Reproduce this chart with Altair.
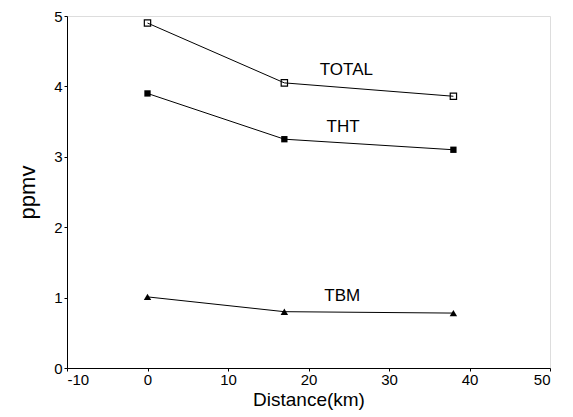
import altair as alt
import pandas as pd

distance = [0, 17, 38]
total = [4.90, 4.05, 3.86]
tht = [3.90, 3.25, 3.10]
tbm = [1.01, 0.80, 0.78]

label_text = ["TOTAL", "THT", "TBM"]
label_x = [24.7, 24.3, 24.2]
label_y = [4.23, 3.42, 1.02]

x_ticks = [-10, 0, 10, 20, 30, 40, 50]
y_ticks = [0, 1, 2, 3, 4, 5]

rows = []
for name, vals in [("TOTAL", total), ("THT", tht), ("TBM", tbm)]:
    for d, v in zip(distance, vals):
        rows.append({"series": name, "distance": d, "ppmv": v})
df = pd.DataFrame(rows)
labels = pd.DataFrame({"text": label_text, "x": label_x, "y": label_y})

FONT = "Liberation Sans"
xs = alt.Scale(domain=[-10, 50], nice=False, zero=False)
ys = alt.Scale(domain=[0, 5], nice=False)

xenc = alt.X("distance:Q", scale=xs, title="Distance(km)",
             axis=alt.Axis(values=x_ticks, grid=False, tickSize=3, labelFontSize=15,
                           labelExpr="'' + datum.value",
                           titleFontSize=19, titleFontWeight="normal", labelColor="black",
                           titleColor="black", domainColor="black", tickColor="black",
                           labelFont=FONT, titleFont=FONT, titlePadding=3, labelPadding=1))
yenc = alt.Y("ppmv:Q", scale=ys, title="ppmv",
             axis=alt.Axis(values=y_ticks, grid=False, tickSize=3, labelFontSize=15,
                           labelExpr="'' + datum.value",
                           titleFontSize=22, titleFontWeight="normal", labelColor="black",
                           titleColor="black", domainColor="black", tickColor="black",
                           labelFont=FONT, titleFont=FONT, titlePadding=14, labelPadding=2))

base = alt.Chart(df)
lines = base.mark_line(color="black", strokeWidth=1).encode(x=xenc, y=yenc, detail="series:N")

pts_total = base.transform_filter(alt.datum.series == "TOTAL").mark_point(
    shape="square", size=40, filled=False, color="black", strokeWidth=1.2, opacity=1
).encode(x="distance:Q", y="ppmv:Q")
pts_tht = base.transform_filter(alt.datum.series == "THT").mark_point(
    shape="square", size=40, filled=True, color="black", opacity=1
).encode(x="distance:Q", y="ppmv:Q")
pts_tbm = base.transform_filter(alt.datum.series == "TBM").mark_point(
    shape="triangle-up", size=55, filled=True, color="black", opacity=1
).encode(x="distance:Q", y="ppmv:Q")

text = alt.Chart(labels).mark_text(font=FONT, fontSize=17, color="black").encode(
    x=alt.X("x:Q", scale=xs), y=alt.Y("y:Q", scale=ys), text="text:N"
)

chart = alt.layer(lines, pts_total, pts_tht, pts_tbm, text).properties(
    width=483, height=352,
    autosize=alt.AutoSizeParams(type="none"),
    padding={"left": 59, "top": 8, "right": 15, "bottom": 45},
).configure_view(stroke="black", strokeWidth=1).configure(background="white")

chart.save("out.html", embed_options={"renderer": "svg", "actions": False})
